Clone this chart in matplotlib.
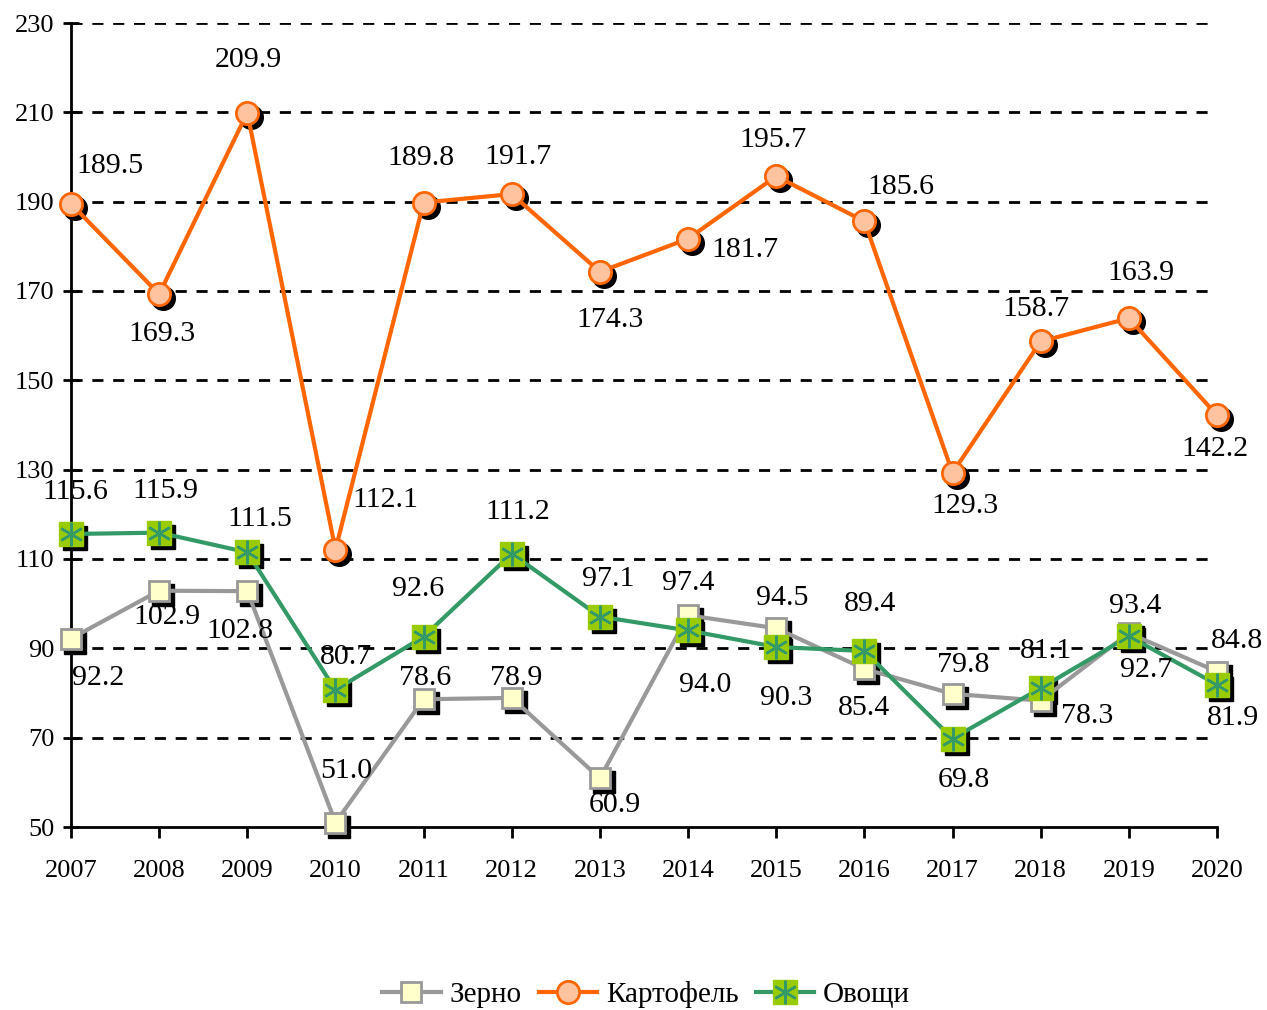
import matplotlib
matplotlib.use('Agg')
import matplotlib.pyplot as plt
from matplotlib.transforms import ScaledTranslation
from matplotlib.lines import Line2D
from matplotlib.legend_handler import HandlerTuple

plt.rcParams['font.family'] = ['Liberation Serif', 'DejaVu Serif']

years = [2007, 2008, 2009, 2010, 2011, 2012, 2013, 2014, 2015, 2016, 2017, 2018, 2019, 2020]
zerno = [92.2, 102.9, 102.8, 51.0, 78.6, 78.9, 60.9, 97.4, 94.5, 85.4, 79.8, 78.3, 93.4, 84.8]
kartofel = [189.5, 169.3, 209.9, 112.1, 189.8, 191.7, 174.3, 181.7, 195.7, 185.6, 129.3, 158.7, 163.9, 142.2]
ovoshchi = [115.6, 115.9, 111.5, 80.7, 92.6, 111.2, 97.1, 94.0, 90.3, 89.4, 69.8, 81.1, 92.7, 81.9]
y_ticks = [50, 70, 90, 110, 130, 150, 170, 190, 210, 230]

# смещения подписей в пикселях (dx вправо, dy вниз)
off_zerno = [(27, 39), (8, 26), (-7, 40), (11, -52), (2, -21), (4, -20), (15, 27),
             (0, -32), (6, -30), (0, 39), (11, -29), (46, 15), (6, -27), (20, -31)]
off_kart = [(39, -38), (3, 40), (1, -53), (50, -50), (-3, -45), (6, -37), (10, 48),
            (57, 11), (-3, -36), (36, -34), (12, 33), (-5, -32), (12, -45), (-2, 34)]
off_ovo = [(4, -42), (6, -42), (12, -33), (11, -33), (-5, -48), (6, -42), (8, -38),
           (17, 55), (10, 51), (6, -47), (11, 41), (5, -37), (17, 34), (16, 33)]

fig = plt.figure(figsize=(12.67, 10.10), dpi=100)
ax = fig.add_axes([71 / 1267, 1 - 827 / 1010, (1217 - 71) / 1267, (827 - 23) / 1010])

shadow = ax.transData + ScaledTranslation(4 / 100, -4 / 100, fig.dpi_scale_trans)

# тени маркеров
ax.plot(years, zerno, ls='none', marker='s', ms=16, color='black', transform=shadow, zorder=3, clip_on=False)
ax.plot(years, kartofel, ls='none', marker='o', ms=17, color='black', transform=shadow, zorder=3, clip_on=False)
ax.plot(years, ovoshchi, ls='none', marker='s', ms=17, color='black', transform=shadow, zorder=3, clip_on=False)

l1, = ax.plot(years, zerno, color='#999999', lw=3, marker='s', ms=15,
              mfc='#FFFFCC', mec='#999999', mew=2, zorder=4, clip_on=False)
l2, = ax.plot(years, kartofel, color='#FF6600', lw=3, marker='o', ms=16,
              mfc='#FFC49F', mec='#FF6600', mew=2, zorder=5, clip_on=False)
l3, = ax.plot(years, ovoshchi, color='#339966', lw=3, marker='s', ms=17,
              mfc='#99CC00', mec='#99CC00', mew=1, zorder=6, clip_on=False)
ax.plot(years, ovoshchi, ls='none', marker=(6, 2, 0), ms=17, mec='#339966', mew=1.8,
        zorder=7, clip_on=False)

for lst, offs in [(zerno, off_zerno), (kartofel, off_kart), (ovoshchi, off_ovo)]:
    for x, v, (dx, dy) in zip(years, lst, offs):
        ax.annotate(f'{v:.1f}', (x, v), xytext=(dx, -dy), textcoords='offset pixels',
                    ha='center', va='center', fontsize=21.5, zorder=8)

ax.set_xlim(2007, 2020)
ax.set_ylim(50, 230)
ax.set_yticks(y_ticks)
ax.set_xticks(years)
ax.tick_params(axis='y', direction='inout', length=12, width=2, labelsize=19, pad=6)
ax.tick_params(axis='x', direction='out', length=8, width=2, labelsize=19, pad=16)
for s in ['top', 'right']:
    ax.spines[s].set_visible(False)
for s in ['left', 'bottom']:
    ax.spines[s].set_linewidth(2)
for yv in y_ticks[1:]:
    ax.axhline(yv, color='black', lw=2, ls=(0, (4, 3.5)), zorder=1)

h3 = (l3, Line2D([], [], ls='none', marker=(6, 2, 0), ms=17, mec='#339966', mew=1.8))
fig.legend([l1, l2, h3], ['Зерно', 'Картофель', 'Овощи'], loc='center',
           bbox_to_anchor=(0.51, 1 - 995 / 1010), ncol=3, frameon=False, fontsize=21,
           handlelength=2.0, columnspacing=0.6, handletextpad=0.3,
           handler_map={tuple: HandlerTuple(ndivide=1, pad=0)})

fig.savefig('out.png', dpi=100)
